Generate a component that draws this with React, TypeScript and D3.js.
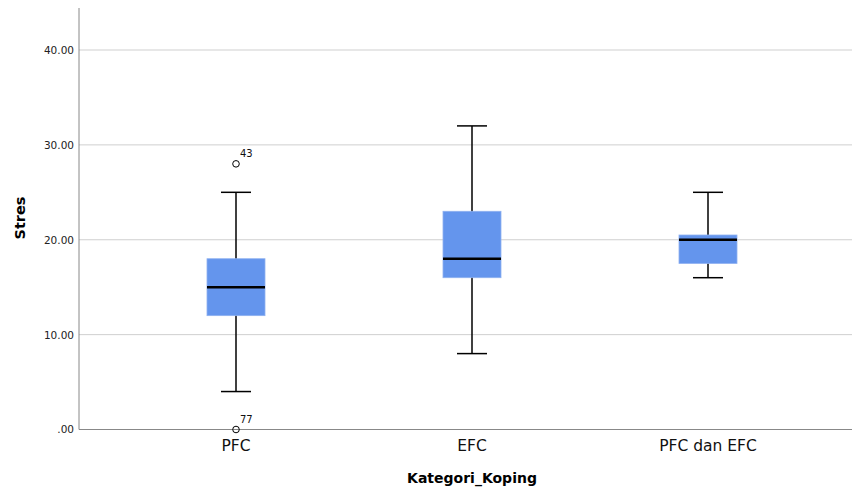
import React, { useEffect, useRef } from 'react';
import * as d3 from 'd3';

// box summaries
const categories = ['PFC', 'EFC', 'PFC dan EFC'];
const whiskerLow = [4, 8, 16];
const q1 = [12, 16, 17.5];
const medians = [15, 18, 20];
const q3 = [18, 23, 20.5];
const whiskerHigh = [25, 32, 25];
const outlierCat = ['PFC', 'PFC'];
const outlierVal = [28, 0];
const outlierLabel = ['43', '77'];
const yTicks = [0, 10, 20, 30, 40];

const W = 853;
const H = 488;

function App() {
    const svgRef = useRef<SVGSVGElement>(null);

    useEffect(() => {
        if (!svgRef.current) return;
        const svg = d3.select(svgRef.current);
        svg.selectAll('*').remove();

        const left = 79, right = 852, top = 8, bottom = 429.5;
        const font = 'DejaVu Sans, sans-serif';

        const x = d3.scaleBand().domain(categories).range([118, 826]);
        const y = d3.scaleLinear().domain([0, 40]).range([bottom, 50]);
        const boxW = 58, capW = 30;

        // gridlines
        svg.append('g')
            .selectAll('line')
            .data(yTicks.filter(t => t > 0))
            .enter().append('line')
            .attr('x1', left).attr('x2', right)
            .attr('y1', d => y(d)).attr('y2', d => y(d))
            .attr('stroke', '#cfcfcf').attr('stroke-width', 1);

        // axes
        const yAxis = svg.append('g')
            .attr('transform', `translate(${left},0)`)
            .call(d3.axisLeft(y).tickValues(yTicks).tickSize(0).tickPadding(5)
                .tickFormat(d => (d === 0 ? '.00' : d3.format('.2f')(d as number))));
        yAxis.select('.domain').remove();
        yAxis.selectAll('text').attr('font-family', font).attr('font-size', 10.5).attr('fill', '#222');

        svg.append('line')
            .attr('x1', left).attr('x2', left).attr('y1', top).attr('y2', bottom)
            .attr('stroke', '#888').attr('stroke-width', 1);
        svg.append('line')
            .attr('x1', left).attr('x2', right).attr('y1', bottom).attr('y2', bottom)
            .attr('stroke', '#888').attr('stroke-width', 1.2);

        const xAxis = svg.append('g')
            .attr('transform', `translate(0,${bottom})`)
            .call(d3.axisBottom(x).tickSize(0).tickPadding(10));
        xAxis.select('.domain').remove();
        xAxis.selectAll('text').attr('font-family', font).attr('font-size', 15.5).attr('fill', '#111');

        // boxes
        const rows = categories.map((c, i) => ({
            c, lo: whiskerLow[i], q1: q1[i], med: medians[i], q3: q3[i], hi: whiskerHigh[i],
        }));
        const g = svg.append('g').selectAll('g').data(rows).enter().append('g')
            .attr('transform', d => `translate(${(x(d.c) as number) + x.bandwidth() / 2},0)`);

        g.append('line').attr('x1', 0).attr('x2', 0)
            .attr('y1', d => y(d.hi)).attr('y2', d => y(d.lo))
            .attr('stroke', '#000').attr('stroke-width', 1.5);
        g.append('line').attr('x1', -capW / 2).attr('x2', capW / 2)
            .attr('y1', d => y(d.hi)).attr('y2', d => y(d.hi))
            .attr('stroke', '#000').attr('stroke-width', 1.5);
        g.append('line').attr('x1', -capW / 2).attr('x2', capW / 2)
            .attr('y1', d => y(d.lo)).attr('y2', d => y(d.lo))
            .attr('stroke', '#000').attr('stroke-width', 1.5);
        g.append('rect')
            .attr('x', -boxW / 2).attr('width', boxW)
            .attr('y', d => y(d.q3)).attr('height', d => y(d.q1) - y(d.q3))
            .attr('fill', '#6495ed').attr('stroke', '#8fb1f0').attr('stroke-width', 0.8);
        g.append('line').attr('x1', -boxW / 2).attr('x2', boxW / 2)
            .attr('y1', d => y(d.med)).attr('y2', d => y(d.med))
            .attr('stroke', '#000').attr('stroke-width', 2.5);

        // outliers
        const outs = outlierVal.map((v, i) => ({ c: outlierCat[i], v, label: outlierLabel[i] }));
        const og = svg.append('g').selectAll('g').data(outs).enter().append('g')
            .attr('transform', d => `translate(${(x(d.c) as number) + x.bandwidth() / 2},${y(d.v)})`);
        og.append('circle').attr('r', 3.3)
            .attr('fill', 'none').attr('stroke', '#000').attr('stroke-width', 1);
        og.append('text').attr('x', 4).attr('y', -7)
            .attr('font-family', font).attr('font-size', 10).attr('fill', '#111')
            .text(d => d.label);

        // titles
        svg.append('text')
            .attr('transform', `translate(25,218) rotate(-90)`)
            .attr('text-anchor', 'middle')
            .attr('font-family', font).attr('font-size', 14.5).attr('font-weight', 'bold')
            .text('Stres');
        svg.append('text')
            .attr('x', (x('EFC') as number) + x.bandwidth() / 2).attr('y', 483)
            .attr('text-anchor', 'middle')
            .attr('font-family', font).attr('font-size', 14).attr('font-weight', 'bold')
            .text('Kategori_Koping');
    }, []);

    return (
        <svg ref={svgRef} width={W} height={H}
            style={{ position: 'absolute', left: 0, top: 0, background: '#fff' }} />
    );
}

export default App;
